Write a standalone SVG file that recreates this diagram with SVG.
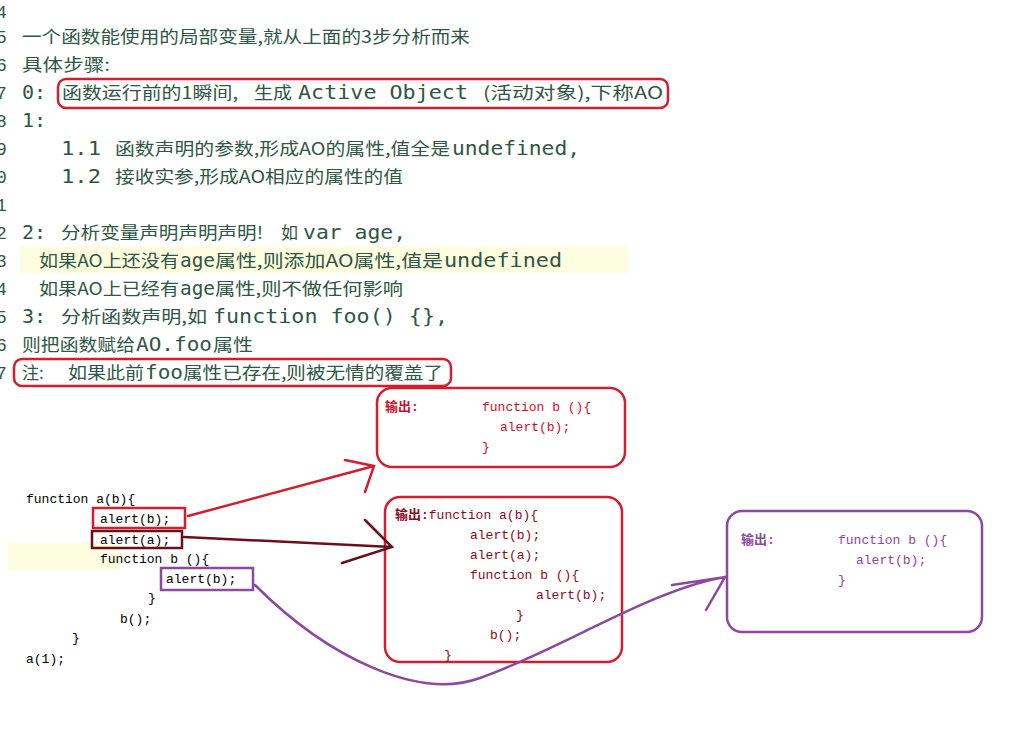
<svg xmlns="http://www.w3.org/2000/svg" width="1036" height="732" viewBox="0 0 1036 732">
<style>
.t{fill:#2f5646;font-family:"Noto Sans CJK SC",sans-serif;font-size:17px}
.m{font-family:"DejaVu Sans Mono","Liberation Mono",monospace;font-size:20px}
.n{fill:#2f5646;font-family:"Liberation Mono",monospace;font-size:18px}
.c{font-family:"Liberation Mono","Noto Sans CJK SC",monospace;font-size:13px;fill:#000}
.r{fill:#c8102e}.d{fill:#8b0a1a}.p{fill:#8b4a9c}
.bx{fill:none;stroke-width:2.5}
</style>
<rect width="1036" height="732" fill="#fff"/>
<rect x="20" y="246" width="608" height="27" fill="#fdfde0"/>
<rect x="8" y="543" width="112" height="27" fill="#fdfde0"/>
<g id="linenums">
<text class="n" x="-4" y="18">4</text><text class="n" x="-4" y="43">5</text><text class="n" x="-4" y="71">6</text><text class="n" x="-4" y="99">7</text><text class="n" x="-4" y="127">8</text><text class="n" x="-4" y="155">9</text><text class="n" x="-4" y="183">0</text><text class="n" x="-4" y="211">1</text><text class="n" x="-4" y="239">2</text><text class="n" x="-4" y="267">3</text><text class="n" x="-4" y="295">4</text><text class="n" x="-4" y="323">5</text><text class="n" x="-4" y="351">6</text><text class="n" x="-4" y="379">7</text>
</g>
<g id="text" lengthAdjust="spacingAndGlyphs">
<text class="t" x="22" y="43" textLength="448" lengthAdjust="spacingAndGlyphs">一个函数能使用的局部变量,就从上面的3步分析而来</text>
<text class="t" x="22" y="71" textLength="88" lengthAdjust="spacingAndGlyphs">具体步骤:</text>
<text class="t" y="99"><tspan x="22" class="m">0:</tspan><tspan x="62" textLength="176" lengthAdjust="spacingAndGlyphs">函数运行前的1瞬间,</tspan><tspan x="254" textLength="38" lengthAdjust="spacingAndGlyphs">生成</tspan><tspan x="298" class="m" textLength="170" lengthAdjust="spacingAndGlyphs">Active Object</tspan><tspan x="483" textLength="180" lengthAdjust="spacingAndGlyphs">(活动对象),下称AO</tspan></text>
<text class="t" y="127"><tspan x="22" class="m">1:</tspan></text>
<text class="t" y="155"><tspan x="61" class="m" textLength="40" lengthAdjust="spacingAndGlyphs">1.1</tspan><tspan x="115" textLength="335" lengthAdjust="spacingAndGlyphs">函数声明的参数,形成AO的属性,值全是</tspan><tspan x="452" class="m" textLength="128" lengthAdjust="spacingAndGlyphs">undefined,</tspan></text>
<text class="t" y="183"><tspan x="61" class="m" textLength="40" lengthAdjust="spacingAndGlyphs">1.2</tspan><tspan x="115" textLength="288" lengthAdjust="spacingAndGlyphs">接收实参,形成AO相应的属性的值</tspan></text>
<text class="t" y="239"><tspan x="22" class="m">2:</tspan><tspan x="61" textLength="202" lengthAdjust="spacingAndGlyphs">分析变量声明声明声明!</tspan><tspan x="281">如</tspan><tspan x="303" class="m" textLength="103" lengthAdjust="spacingAndGlyphs">var age,</tspan></text>
<text class="t" y="267"><tspan x="39" textLength="140" lengthAdjust="spacingAndGlyphs">如果AO上还没有</tspan><tspan x="180" class="m" textLength="35" lengthAdjust="spacingAndGlyphs">age</tspan><tspan x="215" textLength="228" lengthAdjust="spacingAndGlyphs">属性,则添加AO属性,值是</tspan><tspan x="444" class="m" textLength="118" lengthAdjust="spacingAndGlyphs">undefined</tspan></text>
<text class="t" y="295"><tspan x="39" textLength="140" lengthAdjust="spacingAndGlyphs">如果AO上已经有</tspan><tspan x="180" class="m" textLength="35" lengthAdjust="spacingAndGlyphs">age</tspan><tspan x="215" textLength="188" lengthAdjust="spacingAndGlyphs">属性,则不做任何影响</tspan></text>
<text class="t" y="323"><tspan x="22" class="m">3:</tspan><tspan x="61" textLength="146" lengthAdjust="spacingAndGlyphs">分析函数声明,如</tspan><tspan x="213" class="m" textLength="235" lengthAdjust="spacingAndGlyphs">function foo() {},</tspan></text>
<text class="t" y="351"><tspan x="22" textLength="113" lengthAdjust="spacingAndGlyphs">则把函数赋给</tspan><tspan x="136" class="m" textLength="76" lengthAdjust="spacingAndGlyphs">AO.foo</tspan><tspan x="213" textLength="40" lengthAdjust="spacingAndGlyphs">属性</tspan></text>
<text class="t" y="379"><tspan x="22">注:</tspan><tspan x="68" textLength="76" lengthAdjust="spacingAndGlyphs">如果此前</tspan><tspan x="145" class="m" textLength="38" lengthAdjust="spacingAndGlyphs">foo</tspan><tspan x="183" textLength="260" lengthAdjust="spacingAndGlyphs">属性已存在,则被无情的覆盖了</tspan></text>
</g>
<g id="highlights" fill="none" stroke="#d21e2e" stroke-width="2.5">
<rect x="58" y="79" width="610" height="29" rx="8"/>
<rect x="14" y="359" width="437" height="27" rx="8"/>
</g>
<g id="code">
<text class="c" x="26" y="503">function a(b){</text>
<text class="c" x="100" y="523">alert(b);</text>
<text class="c" x="100" y="544">alert(a);</text>
<text class="c" x="100" y="563">function b (){</text>
<text class="c" x="166" y="583">alert(b);</text>
<text class="c" x="148" y="602">}</text>
<text class="c" x="120" y="623">b();</text>
<text class="c" x="72" y="642">}</text>
<text class="c" x="26" y="663">a(1);</text>
<rect x="93" y="508" width="92" height="20" class="bx" stroke="#d21e2e"/>
<rect x="92" y="531" width="90" height="17" class="bx" stroke="#6b0f1a"/>
<rect x="161" y="568" width="92" height="22" class="bx" stroke="#8b4a9c"/>
</g>
<g id="out1">
<rect x="377" y="388" width="248" height="79" rx="15" class="bx" stroke="#d21e2e"/>
<text class="c r" x="385" y="411" font-weight="bold">输出:</text>
<text class="c r" x="482" y="411">function b (){</text>
<text class="c r" x="500" y="431">alert(b);</text>
<text class="c r" x="482" y="451">}</text>
</g>
<g id="out2">
<rect x="385" y="497" width="237" height="165" rx="15" class="bx" stroke="#d21e2e"/>
<text class="c d" x="395" y="519"><tspan font-weight="bold">输出:</tspan>function a(b){</text>
<text class="c d" x="470" y="539">alert(b);</text>
<text class="c d" x="470" y="559">alert(a);</text>
<text class="c d" x="470" y="579">function b (){</text>
<text class="c d" x="536" y="599">alert(b);</text>
<text class="c d" x="516" y="619">}</text>
<text class="c d" x="490" y="639">b();</text>
<text class="c d" x="444" y="659">}</text>
</g>
<g id="out3">
<rect x="727" y="511" width="255" height="121" rx="15" class="bx" stroke="#8b4a9c"/>
<text class="c p" x="741" y="544" font-weight="bold">输出:</text>
<text class="c p" x="838" y="544">function b (){</text>
<text class="c p" x="856" y="564">alert(b);</text>
<text class="c p" x="838" y="584">}</text>
</g>
<g id="connectors" fill="none" stroke-width="2.5" stroke-linecap="round">
<path d="M188 516 L374 466 M345 460 L374 466 L365 492" stroke="#d21e2e"/>
<path d="M184 537 L392 547 M365 520 L392 547 L342 563" stroke="#6b0f1a"/>
<path d="M255 585 C330 660 420 700 480 678 C560 650 650 590 725 577 M672 585 L725 577 L706 610" stroke="#8b4a9c"/>
</g>
</svg>
